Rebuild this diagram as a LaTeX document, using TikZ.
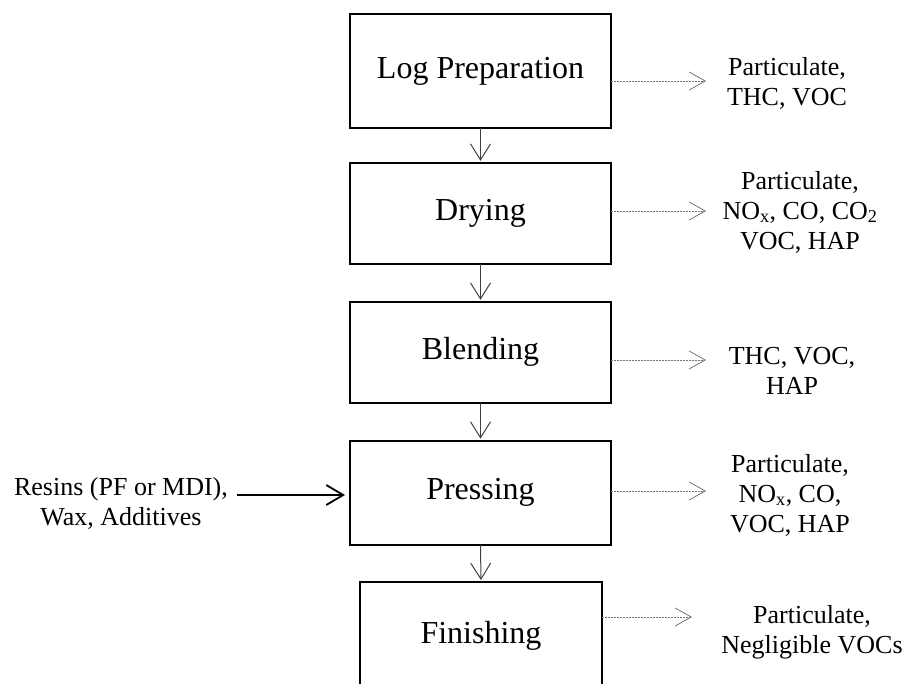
\documentclass[tikz,border=0pt]{standalone}
\usepackage{fontspec}
\setmainfont{Liberation Serif}
\usetikzlibrary{arrows.meta}
\begin{document}
\begin{tikzpicture}[x=1pt,y=-1pt,
  procbox/.style={draw=black,line width=1.6pt,inner sep=0pt,outer sep=0pt,minimum width=261pt,font=\fontsize{32}{38}\selectfont},
  flow/.style={draw=black!75,line width=1pt,-{Straight Barb[length=16pt,width=20pt]},shorten >=2pt},
  emis/.style={draw=black!55,line width=0.8pt,dash pattern=on 2pt off 1pt,-{Straight Barb[length=16pt,width=18pt]}},
  feed/.style={draw=black,line width=1.8pt,-{Straight Barb[length=17pt,width=20pt]},shorten >=5pt},
  sidelbl/.style={align=center,inner sep=0pt,font=\fontsize{26}{30}\selectfont}
]
\useasboundingbox (0,0) rectangle (905,684);
\clip (0,0) rectangle (905,684);
% process boxes
\node[procbox,minimum height=114pt] (b1) at (480.5,71) {Log Preparation};
\node[procbox,minimum height=101pt] (b2) at (480.5,213.3) {Drying};
\node[procbox,minimum height=101pt] (b3) at (480.5,352.3) {Blending};
\node[procbox,minimum height=104pt] (b4) at (480.5,492.7) {Pressing};
\node[procbox,minimum width=242pt,minimum height=108pt] (b5) at (481,636) {Finishing};
% flow arrows
\draw[flow] (b1.south) -- (b2.north);
\draw[flow] (b2.south) -- (b3.north);
\draw[flow] (b3.south) -- (b4.north);
\draw[flow] (b4.south) -- (b5.north);
% emission arrows
\coordinate (t1) at (706,81);
\coordinate (t2) at (706,211);
\coordinate (t3) at (706,360);
\coordinate (t4) at (706,491);
\coordinate (t5) at (692,617);
\draw[emis] (b1.east |- t1) -- (t1);
\draw[emis] (b2.east |- t2) -- (t2);
\draw[emis] (b3.east |- t3) -- (t3);
\draw[emis] (b4.east |- t4) -- (t4);
\draw[emis] (b5.east |- t5) -- (t5);
% emission labels
\node[sidelbl] (l1) at (787,83.4) {Particulate,\\THC, VOC};
\node[sidelbl] (l2) at (800,212) {Particulate,\\NO\textsubscript{x}, CO, CO\textsubscript{2}\\VOC, HAP};
\node[sidelbl] (l3) at (792,371) {THC, VOC,\\HAP};
\node[sidelbl] (l4) at (790,495) {Particulate,\\NO\textsubscript{x}, CO,\\VOC, HAP};
\node[sidelbl] (l5) at (812,632) {Particulate,\\Negligible VOCs};
% feed input
\node[sidelbl] (res) at (121,503) {Resins (PF or MDI),\\Wax, Additives};
\coordinate (rs) at (237,495);
\draw[feed] (rs) -- (b4.west |- rs);
\end{tikzpicture}
\end{document}
